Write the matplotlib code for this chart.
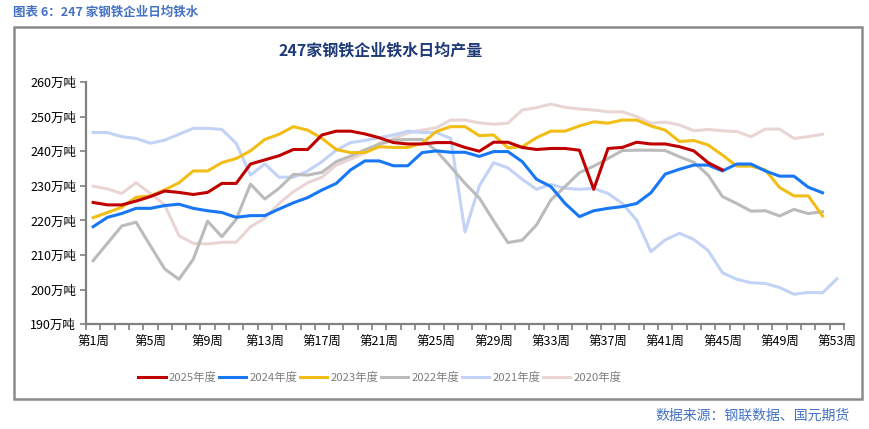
import matplotlib
matplotlib.use("Agg")
import matplotlib.pyplot as plt
from matplotlib.patches import Rectangle
import numpy as np

plt.rcParams['font.family'] = ['Noto Sans CJK SC', 'DejaVu Sans']

W, H = 869, 429

series_names = ["2025年度", "2024年度", "2023年度", "2022年度", "2021年度", "2020年度"]

y2025 = [225.2, 224.5, 224.5, 225.6, 226.9, 228.5, 228.1, 227.5, 228.1, 230.7,
         230.7, 236.3, 237.5, 238.7, 240.5, 240.5, 244.7, 245.8, 245.8, 245.0,
         243.9, 242.5, 242.1, 242.1, 242.5, 242.5, 241.1, 240.0, 242.6, 242.6,
         241.1, 240.5, 240.8, 240.8, 240.3, 229.0, 240.8, 241.1, 242.6, 242.1,
         242.1, 241.3, 240.1, 236.7, 234.6]
y2024 = [218.2, 220.9, 222.0, 223.5, 223.5, 224.3, 224.7, 223.5, 222.8, 222.3,
         220.9, 221.4, 221.4, 223.3, 225.1, 226.6, 228.8, 230.7, 234.6, 237.2,
         237.2, 235.8, 235.8, 239.6, 240.1, 239.7, 239.7, 238.5, 239.9, 239.9,
         237.0, 231.9, 229.8, 224.9, 221.1, 222.8, 223.5, 224.0, 224.9, 228.0,
         233.4, 234.8, 236.0, 236.0, 234.3, 236.3, 236.3, 234.3, 232.8, 232.8,
         229.6, 228.0]
y2023 = [220.8, 222.3, 223.8, 226.7, 227.1, 228.8, 230.9, 234.3, 234.3, 236.7,
         237.9, 240.1, 243.4, 244.9, 247.1, 246.1, 243.7, 240.5, 239.6, 239.6,
         241.3, 241.1, 241.1, 242.3, 245.7, 247.1, 247.1, 244.5, 244.7, 241.0,
         241.3, 243.9, 245.8, 245.8, 247.3, 248.5, 248.1, 249.0, 249.0, 247.3,
         246.1, 242.8, 243.1, 241.8, 238.9, 235.7, 235.7, 234.6, 229.5, 227.1,
         227.1, 221.3]
y2022 = [208.4, 213.4, 218.4, 219.5, 212.7, 206.0, 203.0, 208.8, 219.8, 215.3,
         220.3, 230.5, 226.2, 229.3, 233.3, 233.1, 233.9, 237.0, 238.6, 240.4,
         242.0, 243.2, 243.4, 243.4, 240.1, 235.5, 230.7, 226.5, 219.9, 213.6,
         214.3, 218.7, 225.9, 229.8, 233.8, 235.7, 237.9, 240.2, 240.3, 240.3,
         240.2, 238.4, 236.8, 233.1, 226.9, 224.9, 222.7, 222.8, 221.3, 223.2,
         222.0, 222.5]
y2021 = [245.4, 245.4, 244.2, 243.7, 242.3, 243.2, 244.9, 246.6, 246.6, 246.3,
         242.3, 233.1, 236.3, 232.5, 232.5, 234.3, 237.0, 240.3, 242.5, 243.1,
         243.9, 244.7, 245.8, 245.4, 245.4, 243.7, 216.7, 230.0, 236.7, 235.2,
         231.9, 229.0, 230.4, 229.3, 229.0, 229.3, 227.8, 224.9, 220.1, 211.0,
         214.4, 216.3, 214.5, 211.3, 204.9, 203.0, 202.0, 201.8, 200.6, 198.7,
         199.2, 199.1, 203.1]
y2020 = [229.9, 229.1, 227.8, 230.9, 227.8, 224.5, 215.6, 213.4, 213.2, 213.7,
         213.7, 218.2, 220.6, 224.9, 228.3, 230.9, 232.5, 236.0, 237.7, 239.6,
         242.3, 243.7, 245.2, 246.1, 246.8, 249.0, 249.0, 248.2, 247.8, 248.1,
         251.9, 252.6, 253.6, 252.7, 252.2, 251.9, 251.4, 251.4, 250.0, 248.1,
         248.4, 247.6, 245.9, 246.3, 245.9, 245.7, 244.2, 246.4, 246.4, 243.7,
         244.2, 244.9]

weeks = np.arange(1, 54)
week_labels = [f"第{w}周" for w in range(1, 54, 4)]
y_ticks = list(range(190, 261, 10))
y_tick_labels = [f"{v}万吨" for v in y_ticks]

colors = ["#C00000", "#1877F5", "#F2BE16", "#BBBBBB", "#C3D3F6", "#EAD5D5"]
all_series = [y2025, y2024, y2023, y2022, y2021, y2020]

fig = plt.figure(figsize=(W / 100, H / 100), dpi=100)

# outer frame
fig.patches.append(Rectangle((14 / W, 1 - 399 / H), (862 - 14) / W, (399 - 27) / H,
                             transform=fig.transFigure, fill=False,
                             edgecolor="#8A8A8A", linewidth=1.8, zorder=0))

ax = fig.add_axes([86 / W, 1 - 324.3 / H, (844 - 86) / W, (324.3 - 82) / H])

lines = {}
for name, ys, c in reversed(list(zip(series_names, all_series, colors))):
    ln, = ax.plot(weeks[:len(ys)], ys, color=c, lw=2.2, solid_joinstyle='round',
                  label=name)
    lines[name] = ln

ax.set_xlim(0.5, 53.5)
ax.set_ylim(190, 260)
ax.set_yticks(y_ticks)
ax.set_yticklabels(y_tick_labels)
ax.set_xticks(list(range(1, 54, 4)))
ax.set_xticklabels(week_labels)
ax.set_xticks(np.arange(0.5, 54, 1), minor=True)
ax.tick_params(axis='x', which='major', length=0, pad=8, labelsize=9, colors='black')
ax.tick_params(axis='x', which='minor', length=4, width=1.2, color='#808080')
ax.tick_params(axis='y', which='major', length=4, width=1.2, color='#808080',
               labelsize=9, pad=3)
for s in ['top', 'right']:
    ax.spines[s].set_visible(False)
for s in ['left', 'bottom']:
    ax.spines[s].set_color('#808080')
    ax.spines[s].set_linewidth(1.6)

handles = [lines[n] for n in series_names]
leg = fig.legend(handles, series_names, loc='center', ncol=6,
                 bbox_to_anchor=(380 / W, 1 - 377 / H), frameon=False,
                 fontsize=8.2, handlelength=2.4, handletextpad=0.3,
                 columnspacing=0.2, borderpad=0)
for t in leg.get_texts():
    t.set_color('#7F7F7F')

fig.text(13 / W, 1 - 12 / H, "图表 6：247 家钢铁企业日均铁水", color="#4472C4",
         fontsize=9, fontweight='bold', ha='left', va='center')
fig.text(381 / W, 1 - 50 / H, "247家钢铁企业铁水日均产量", color="#1F3A78",
         fontsize=11.5, fontweight='bold', ha='center', va='center')
fig.text(850 / W, 1 - 416 / H, "数据来源：钢联数据、国元期货", color="#4472C4",
         fontsize=10, ha='right', va='center')

fig.savefig("out.png", dpi=100)
